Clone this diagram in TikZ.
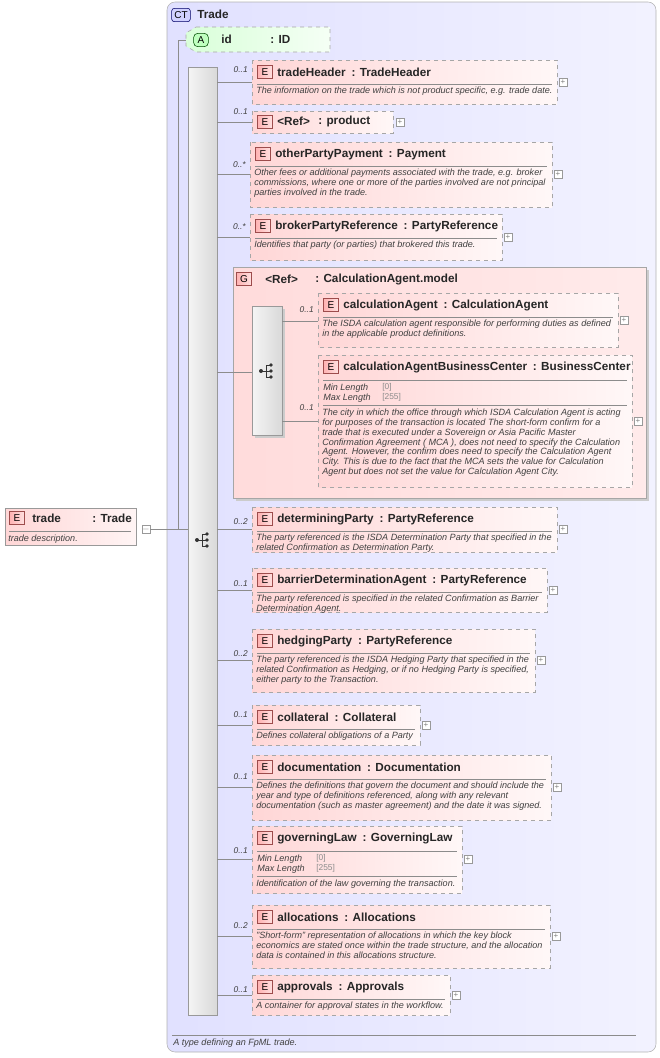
\documentclass[tikz,border=0pt]{standalone}
\usepackage{fontspec}
\setmainfont{Liberation Sans}
\begin{document}
\begin{tikzpicture}[x=0.75pt,y=-0.75pt,
 ebox/.style={draw=black!35,dashed,left color=red!16,right color=red!3},
 badge/.style={draw=red!45!black!70,left color=red!30,right color=red!12,minimum width=11pt,minimum height=10pt,inner sep=0pt,font=\fontsize{7.5}{8}\selectfont},
 ttl/.style={font=\fontsize{8.8}{9}\bfseries,inner sep=0pt,text=black!85},
 desc/.style={font=\fontsize{6.8}{7.3}\itshape,inner sep=0pt,align=left,text=black!75},
 mult/.style={font=\fontsize{6.3}{7}\itshape,inner sep=0pt,anchor=east,text=black!75},
 sep/.style={draw=black!45,line width=0.4pt},
 conn/.style={draw=black!45,line width=0.5pt},
 plus/.style={draw=black!40,fill=white,minimum size=6pt,inner sep=0pt,font=\fontsize{6}{6}\selectfont,text=black!50},
 seqbox/.style={draw=black!40,left color=black!4,right color=black!15}]
\useasboundingbox (0,0) rectangle (660,1058);
\newcommand\EBox[7]{%
 \draw[ebox] (#2,#3) rectangle (#4,#5);
 \coordinate (#1) at (#2,{(#3+#5)/2});
 \node[badge] at (#2+13,#3+12) {E};
 \node[ttl,anchor=west] at (#2+25,#3+12) {#6};
 \draw[sep] (#2+5,#3+24) -- (#4-5,#3+24);
 \node[desc,anchor=north west] at (#2+4,#3+27) {#7};
 \node[plus] at (#4+6,{(#3+#5)/2}) {+};
}
\newcommand\EBoxF[7]{%
 \draw[ebox] (#2,#3) rectangle (#4,#5);
 \coordinate (#1) at (#2,{(#3+#5)/2});
 \node[badge] at (#2+13,#3+12) {E};
 \node[ttl,anchor=west] at (#2+25,#3+12) {#6};
 \draw[sep] (#2+5,#3+25) -- (#4-5,#3+25);
 \node[desc,anchor=west] at (#2+5,#3+33) {Min Length};
 \node[desc,anchor=west] at (#2+5,#3+43) {Max Length};
 \node[desc,anchor=west,text=black!45,font=\fontsize{6.3}{7}\selectfont] at (#2+64,#3+32) {[0]};
 \node[desc,anchor=west,text=black!45,font=\fontsize{6.3}{7}\selectfont] at (#2+64,#3+42) {[255]};
 \draw[sep] (#2+5,#3+50) -- (#4-5,#3+50);
 \node[desc,anchor=north west] at (#2+4,#3+54) {#7};
 \node[plus] at (#4+6,{(#3+#5)/2}) {+};
}
% CT box
\draw[draw=black!30,rounded corners=6pt,left color=blue!12,right color=blue!5] (167,2) rectangle (656,1052);
\node[draw=blue!40!black,fill=blue!18,rounded corners=2pt,minimum width=14pt,minimum height=10pt,inner sep=0pt,font=\fontsize{7.5}{8}\selectfont] (ct) at (181,15) {CT};
\node[ttl,anchor=west] at (197,14) {Trade};
\draw[sep] (172,1035) -- (636,1035);
\node[desc,anchor=west] at (173,1043) {A type defining an FpML trade.};
% trade element
\draw[draw=black!40,left color=red!16,right color=red!4] (5,508) rectangle (136,545);
\node[badge] at (17,518) {E};
\node[ttl,anchor=west] at (32,518) {trade};
\node[ttl,anchor=west] at (92,518) {: Trade};
\draw[sep] (9,531) -- (131,531);
\node[desc,anchor=west] at (8,539) {trade description.};
\node[plus] (tm) at (146,529) {$-$};
% attribute
\draw[draw=black!35,dashed,left color=green!15,right color=green!4] (196,27) -- (330,27) -- (330,52) -- (196,52) -- (186,46) -- (186,33) -- cycle;
\node[draw=green!30!black,fill=green!25,rounded corners=3pt,minimum width=11pt,minimum height=10pt,inner sep=0pt,font=\fontsize{7.5}{8}\selectfont] (ida) at (201,40) {A};
\node[ttl,anchor=west] at (221,39) {id};
\node[ttl,anchor=west] at (270,39) {: ID};
\coordinate (idl) at (186,40);
% main trunk
\coordinate (tk) at (178,529);
\draw[conn] (tm.east) -- (tk) |- (idl);
\draw[seqbox] (188,67) rectangle (217,1015);
\coordinate (seq) at (188,529);
\draw[conn] (tk) -- (seq);
\newcommand\SeqIcon[2]{%
 \begin{scope}[shift={(#1,#2)}]
 \fill[black!80] (-5,0) circle (2);
 \draw[black!80,line width=0.6pt] (-5,0) -- (0,0) (0,-6) -- (0,6) (0,-6) -- (5,-6) (0,0) -- (5,0) (0,6) -- (5,6);
 \fill[black!80] (5,-6) circle (1.8) (5,0) circle (1.8) (5,6) circle (1.8);
 \end{scope}}
\SeqIcon{202}{540}
% elements
\EBox{th}{252}{60}{557}{104}{tradeHeader\enspace: TradeHeader}{The information on the trade which is not product specific, e.g. trade date.}
\draw[ebox] (252,111) rectangle (393,133);
\coordinate (pr) at (252,122);
\node[badge] at (265,122) {E};
\node[ttl,anchor=west] at (277,121) {<Ref>};
\node[ttl,anchor=west] at (318,121) {: product};
\node[plus] at (400,122) {+};
\EBox{op}{250}{142}{552}{207}{otherPartyPayment\enspace: Payment}{Other fees or additional payments associated with the trade, e.g. broker\\commissions, where one or more of the parties involved are not principal\\parties involved in the trade.}
\EBox{bp}{250}{214}{502}{260}{brokerPartyReference\enspace: PartyReference}{Identifies that party (or parties) that brokered this trade.}
% group
\fill[black!20] (236,270) rectangle (649,501);
\draw[draw=black!35,left color=red!14,right color=red!8] (233,267) rectangle (646,498);
\coordinate (grp) at (233,372);
\node[badge] at (244,279) {G};
\node[ttl,anchor=west] at (265,279) {<Ref>};
\node[ttl,anchor=west] at (315,279) {: CalculationAgent.model};
\fill[black!20] (255,309) rectangle (285,438);
\draw[seqbox] (252,306) rectangle (282,435);
\SeqIcon{266}{371}
\coordinate (gs) at (252,372);
\draw[conn] (grp) -- (gs);
\EBox{ca}{318}{293}{618}{347}{calculationAgent\enspace: CalculationAgent}{The ISDA calculation agent responsible for performing duties as defined\\in the applicable product definitions.}
\EBoxF{cb}{318}{355}{632}{487}{calculationAgentBusinessCenter\enspace: BusinessCenter}{The city in which the office through which ISDA Calculation Agent is acting\\for purposes of the transaction is located The short-form confirm for a\\trade that is executed under a Sovereign or Asia Pacific Master\\Confirmation Agreement ( MCA ), does not need to specify the Calculation\\Agent. However, the confirm does need to specify the Calculation Agent\\City. This is due to the fact that the MCA sets the value for Calculation\\Agent but does not set the value for Calculation Agent City.}
\draw[conn] (282,321) -- (ca |- 282,321);
\draw[conn] (282,421) -- (cb |- 282,421);
\node[mult] at (314,310) {0..1};
\node[mult] at (314,408) {0..1};
\EBox{dp}{252}{507}{557}{552}{determiningParty\enspace: PartyReference}{The party referenced is the ISDA Determination Party that specified in the\\related Confirmation as Determination Party.}
\EBox{ba}{252}{568}{547}{612}{barrierDeterminationAgent\enspace: PartyReference}{The party referenced is specified in the related Confirmation as Barrier\\Determination Agent.}
\EBox{hp}{252}{629}{535}{692}{hedgingParty\enspace: PartyReference}{The party referenced is the ISDA Hedging Party that specified in the\\related Confirmation as Hedging, or if no Hedging Party is specified,\\either party to the Transaction.}
\EBox{co}{252}{705}{420}{745}{collateral\enspace: Collateral}{Defines collateral obligations of a Party}
\EBox{dc}{252}{755}{551}{820}{documentation\enspace: Documentation}{Defines the definitions that govern the document and should include the\\year and type of definitions referenced, along with any relevant\\documentation (such as master agreement) and the date it was signed.}
\EBoxF{gl}{252}{826}{462}{893}{governingLaw\enspace: GoverningLaw}{Identification of the law governing the transaction.}
\EBox{al}{252}{905}{550}{968}{allocations\enspace: Allocations}{"Short-form" representation of allocations in which the key block\\economics are stated once within the trade structure, and the allocation\\data is contained in this allocations structure.}
\EBox{ap}{252}{975}{450}{1015}{approvals\enspace: Approvals}{A container for approval states in the workflow.}
% connectors from sequence
\foreach \n in {th,pr,op,bp,grp,dp,ba,hp,co,dc,gl,al,ap}{\draw[conn] (217,0 |- \n) -- (\n);}
% multiplicities
\node[mult] at (248,70) {0..1};
\node[mult] at (248,112) {0..1};
\node[mult] at (246,165) {0..*};
\node[mult] at (246,227) {0..*};
\node[mult] at (248,522) {0..2};
\node[mult] at (248,584) {0..1};
\node[mult] at (248,654) {0..2};
\node[mult] at (248,715) {0..1};
\node[mult] at (248,777) {0..1};
\node[mult] at (248,851) {0..1};
\node[mult] at (248,926) {0..2};
\node[mult] at (248,990) {0..1};
\end{tikzpicture}
\end{document}
